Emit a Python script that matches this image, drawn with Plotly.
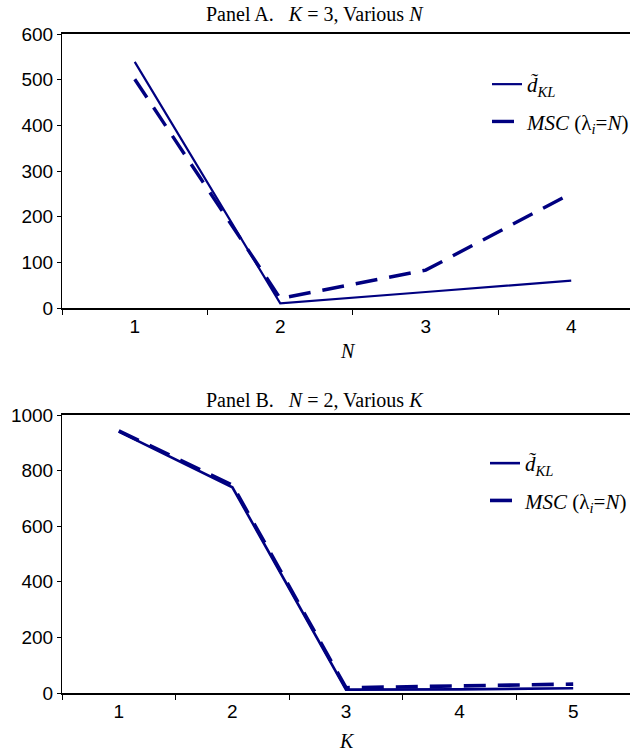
import plotly.graph_objects as go

# ---- data ----
n_vals = ["1", "2", "3", "4"]
kl_panel_a = [539, 10, 35, 60]
msc_panel_a = [501, 21, 83, 251]

k_vals = ["1", "2", "3", "4", "5"]
kl_panel_b = [940, 740, 12, 13, 17]
msc_panel_b = [943, 748, 19, 26, 32]

W, H = 630, 752
NAVY = "#000080"
SERIF = "Liberation Serif, Times New Roman, serif"
SANS = "Liberation Sans, Arial, sans-serif"

def px_x(p):
    return p / W

def px_y(p):
    return 1 - p / H

kl_name = "<i>d\u0303</i><sub><i>KL</i></sub>"
msc_name = "<i>MSC</i> (\u03bb<sub><i>i</i></sub>=<i>N</i>)"

fig = go.Figure()

fig.add_trace(go.Scatter(x=n_vals, y=kl_panel_a, mode="lines", name=kl_name,
                         line=dict(color=NAVY, width=2.2), xaxis="x", yaxis="y",
                         legend="legend", legendgroup="a1"))
fig.add_trace(go.Scatter(x=n_vals, y=msc_panel_a, mode="lines", name=msc_name,
                         line=dict(color=NAVY, width=3.4, dash="22px,12px"),
                         xaxis="x", yaxis="y", legend="legend", legendgroup="a2"))
fig.add_trace(go.Scatter(x=k_vals, y=kl_panel_b, mode="lines", name=kl_name,
                         line=dict(color=NAVY, width=2.6), xaxis="x2", yaxis="y2",
                         legend="legend2", legendgroup="b1"))
fig.add_trace(go.Scatter(x=k_vals, y=msc_panel_b, mode="lines", name=msc_name,
                         line=dict(color=NAVY, width=3.6, dash="22px,12px"),
                         xaxis="x2", yaxis="y2", legend="legend2", legendgroup="b2"))

xdom = [px_x(62), 1.0]

common_x = dict(type="category", showgrid=False, zeroline=False, showline=True,
                linecolor="black", mirror=True, ticks="outside", ticklen=5,
                tickcolor="black", tickson="boundaries",
                tickfont=dict(family=SANS, size=19, color="black"),
                automargin=False, fixedrange=True)
common_y = dict(showgrid=False, zeroline=False, showline=True, linecolor="black",
                linewidth=1, ticks="outside", ticklen=4, tickcolor="black",
                tickfont=dict(family=SANS, size=19, color="black"),
                automargin=False, fixedrange=True)

leg_common = dict(xanchor="left", yanchor="top", bgcolor="rgba(0,0,0,0)",
                  borderwidth=0, traceorder="grouped", tracegroupgap=7,
                  font=dict(family=SERIF, size=21, color="black"))

fig.update_layout(
    width=W, height=H,
    margin=dict(l=0, r=0, t=0, b=0, autoexpand=False),
    paper_bgcolor="white", plot_bgcolor="white",
    xaxis=dict(common_x, domain=xdom, anchor="y", range=[-0.5, 3.404],
               categoryorder="array", categoryarray=n_vals, linewidth=1.5),
    yaxis=dict(common_y, domain=[px_y(308), px_y(34)], anchor="x",
               range=[0, 600], tickvals=[0, 100, 200, 300, 400, 500, 600]),
    xaxis2=dict(common_x, domain=xdom, anchor="y2", range=[-0.5, 4.5],
                categoryorder="array", categoryarray=k_vals, linewidth=2),
    yaxis2=dict(common_y, domain=[px_y(693), px_y(415)], anchor="x2",
                range=[0, 1000], tickvals=[0, 200, 400, 600, 800, 1000]),
    legend=dict(leg_common, x=px_x(487), y=px_y(64)),
    legend2=dict(leg_common, x=px_x(485), y=px_y(443)),
    showlegend=True,
)

sp = "\u00a0\u00a0\u00a0"
ann_font = dict(family=SERIF, size=20, color="black")
fig.add_annotation(text=f"Panel A.{sp}<i>K</i> = 3, Various <i>N</i>",
                   x=px_x(315), y=px_y(14), xref="paper", yref="paper",
                   xanchor="center", yanchor="middle", showarrow=False, font=ann_font)
fig.add_annotation(text=f"Panel B.{sp}<i>N</i> = 2, Various <i>K</i>",
                   x=px_x(315), y=px_y(400), xref="paper", yref="paper",
                   xanchor="center", yanchor="middle", showarrow=False, font=ann_font)
fig.add_annotation(text="<i>N</i>", x=px_x(348), y=px_y(351), xref="paper", yref="paper",
                   xanchor="center", yanchor="middle", showarrow=False, font=ann_font)
fig.add_annotation(text="<i>K</i>", x=px_x(347), y=px_y(741), xref="paper", yref="paper",
                   xanchor="center", yanchor="middle", showarrow=False, font=ann_font)

fig.write_html("out.html", config={"displayModeBar": False},
               post_script="document.body.style.margin='0';")
